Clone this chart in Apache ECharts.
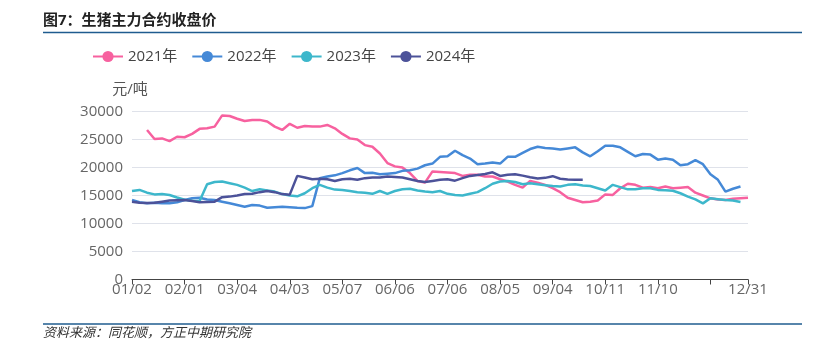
<!DOCTYPE html>
<html>
<head>
    <meta charset="utf-8">
    <title>生猪主力合约收盘价</title>
    <script src="https://cdn.jsdelivr.net/npm/echarts@6/dist/echarts.min.js"></script>
    <style type="text/css">
        html, body { margin: 0; padding: 0; background: #fff; }
        #chart { width: 821px; height: 350px; }
    </style>
</head>
<body>
<div id="chart"></div>
<script type="text/javascript">
    // x轴: 每3个交易日取一个点, 每7个点一个刻度
    var tickLabels = ['01/02', '02/01', '03/04', '04/03', '05/07', '06/06', '07/06', '08/05', '09/04', '10/11', '11/10', '', '12/31'];
    var tickStep = 7;
    var pointCount = 83;

    var y2021 = [null, null, 26700, 25100, 25200, 24700, 25500, 25400, 26000, 26900,
        27000, 27300, 29300, 29200, 28700, 28300, 28500, 28500, 28200, 27300,
        26700, 27800, 27100, 27400, 27300, 27300, 27600, 27000, 26000, 25200,
        25000, 24000, 23700, 22500, 20800, 20200, 20000, 19000, 17600, 17300,
        19300, 19200, 19100, 19000, 18500, 18700, 18700, 18400, 18400, 17900,
        17500, 16900, 16400, 17600, 17300, 16900, 16300, 15600, 14600, 14200,
        13800, 13900, 14100, 15200, 15100, 16300, 17100, 16900, 16400, 16500,
        16300, 16600, 16300, 16400, 16500, 15500, 15000, 14500, 14300, 14200,
        14400, 14500, 14600];
    var y2022 = [14200, 13800, 13600, 13700, 13600, 13600, 13800, 14200, 14500, 14600,
        14300, 14200, 13900, 13600, 13300, 13000, 13300, 13200, 12800, 12900,
        13000, 12900, 12800, 12750, 13100, 18100, 18400, 18600, 19000, 19500,
        19900, 19000, 19050, 18800, 18900, 19000, 19400, 19500, 19800, 20400,
        20700, 21900, 22000, 23000, 22200, 21600, 20600, 20700, 20900, 20700,
        21900, 21900, 22600, 23300, 23700, 23500, 23400, 23200, 23400, 23600,
        22700, 22000, 22900, 23900, 23900, 23600, 22800, 22000, 22400, 22300,
        21400, 21600, 21400, 20400, 20600, 21300, 20600, 18800, 17800, 15700,
        16200, 16600, null];
    var y2023 = [15800, 16000, 15500, 15200, 15250, 15100, 14650, 14250, 14050, 14000,
        17000, 17400, 17500, 17200, 16900, 16400, 15800, 16100, 15900, 15700,
        15250, 15000, 14850, 15400, 16300, 16900, 16400, 16050, 16000, 15800,
        15600, 15500, 15300, 15800, 15300, 15800, 16100, 16200, 15900, 15700,
        15600, 15800, 15300, 15100, 15000, 15300, 15600, 16300, 17100, 17500,
        17600, 17400, 17000, 17200, 17000, 16850, 16700, 16600, 16900, 17000,
        16800, 16700, 16300, 15900, 16900, 16500, 16100, 16100, 16300, 16300,
        16000, 15950, 15850, 15400, 14800, 14300, 13600, 14500, 14350, 14200,
        14100, 13850, null];
    var y2024 = [13900, 13700, 13650, 13700, 13900, 14100, 14150, 14200, 14000, 13800,
        13850, 13900, 14700, 14800, 15000, 15250, 15300, 15600, 15800, 15600,
        15250, 15150, 18500, 18200, 17900, 18000, 17900, 17600, 17900, 18000,
        17800, 18100, 18200, 18200, 18400, 18300, 18200, 17900, 17600, 17400,
        17600, 17800, 17900, 17650, 18100, 18500, 18650, 18850, 19150, 18500,
        18700, 18800, 18550, 18250, 18050, 18150, 18450, 18000, 17850, 17800,
        17800];

    var seriesNames = ['2021年', '2022年', '2023年', '2024年'];
    var seriesColors = ['#f7619f', '#4589d7', '#3db7cb', '#4c5299'];
    var seriesData = [y2021, y2022, y2023, y2024];

    var categories = [];
    for (var i = 0; i < pointCount; i++) {
        categories.push(i);
    }
    var lastIdx = pointCount - 1;

    function isTick(idx) {
        return idx % tickStep === 0 || idx === lastIdx;
    }

    var fontFamily = "'Open Sans', 'Noto Sans CJK SC', sans-serif";

    var series = [];
    for (var k = 0; k < seriesNames.length; k++) {
        series.push({
            name: seriesNames[k],
            type: 'line',
            data: seriesData[k],
            symbol: 'circle',
            symbolSize: 12,
            showSymbol: false,
            lineStyle: { width: 2.5, color: seriesColors[k] },
            itemStyle: { color: seriesColors[k] },
            animation: false
        });
    }

    var chart = echarts.init(document.getElementById('chart'));
    chart.setOption({
        backgroundColor: '#fff',
        textStyle: { fontFamily: fontFamily },
        graphic: [
            {
                type: 'text', left: 43, top: 13,
                style: { text: '图7：生猪主力合约收盘价', fontSize: 15, fontWeight: 'bold', fill: '#222', fontFamily: fontFamily }
            },
            {
                type: 'line', shape: { x1: 43, y1: 32.5, x2: 802, y2: 32.5 },
                style: { stroke: '#1f5c8f', lineWidth: 1.5 }
            },
            {
                type: 'line', shape: { x1: 43, y1: 324, x2: 802, y2: 324 },
                style: { stroke: '#1f5c8f', lineWidth: 1.5 }
            },
            {
                type: 'text', left: 43, top: 327,
                style: { text: '资料来源：同花顺，方正中期研究院', fontSize: 13, fontStyle: 'italic', fill: '#333', fontFamily: fontFamily }
            }
        ],
        legend: {
            left: 87, top: 44,
            itemWidth: 30, itemHeight: 14, itemGap: 14,
            textStyle: { fontSize: 15, color: '#444', fontFamily: fontFamily },
            data: seriesNames
        },
        grid: { left: 132, right: 73, top: 111.5, bottom: 70.5 },
        xAxis: {
            type: 'category',
            boundaryGap: false,
            data: categories,
            axisLine: { lineStyle: { color: '#444', width: 1 } },
            axisTick: { interval: isTick, length: 5, lineStyle: { color: '#444' } },
            axisLabel: {
                interval: isTick,
                margin: 3,
                fontSize: 15,
                color: '#666',
                formatter: function (value, idx) {
                    if (idx === lastIdx) return tickLabels[tickLabels.length - 1];
                    return tickLabels[idx / tickStep];
                }
            },
            splitLine: { show: false }
        },
        yAxis: {
            type: 'value',
            min: 0, max: 30000, interval: 5000,
            name: '元/吨',
            nameGap: 14,
            nameTextStyle: { fontSize: 15, color: '#555', align: 'center', padding: [0, 4, 0, 0] },
            axisLine: { show: false },
            axisTick: { show: false },
            axisLabel: {
                fontSize: 15, color: '#666', margin: 9,
                formatter: function (v) { return String(v); }
            },
            splitLine: { lineStyle: { color: '#dfe2ea', width: 1 } }
        },
        series: series
    });
</script>
</body>
</html>
